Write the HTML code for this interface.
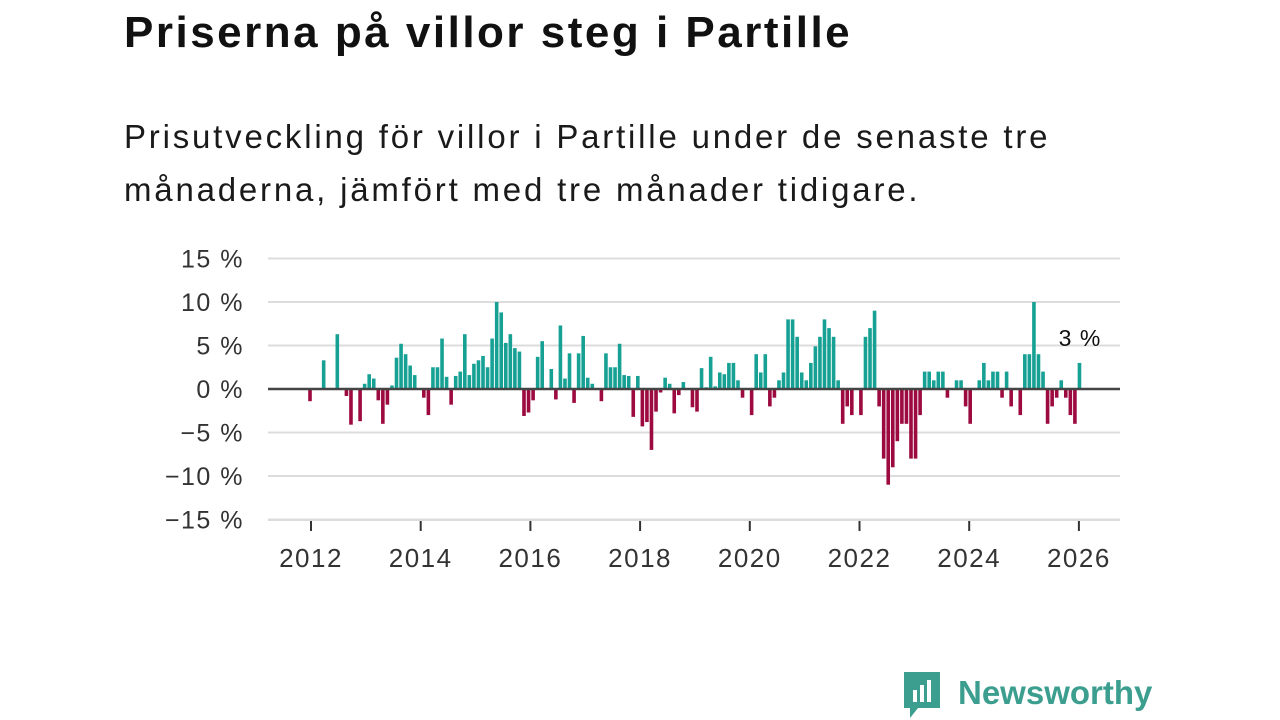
<!DOCTYPE html>
<html><head><meta charset="utf-8">
<style>
body{margin:0;width:1280px;height:720px;background:#fff;overflow:hidden;font-family:"Liberation Sans","DejaVu Sans",sans-serif;color:#111}
h1{position:absolute;left:124px;top:8px;margin:0;font-size:44px;font-weight:bold;letter-spacing:2.5px}
p.sub{position:absolute;left:124px;top:110px;margin:0;font-size:33px;line-height:53px;color:#1a1a1a;width:1100px;letter-spacing:2.8px}
svg{position:absolute;left:0;top:0}
</style></head><body>
<h1>Priserna på villor steg i Partille</h1>
<p class="sub">Prisutveckling för villor i Partille under de senaste tre<br>månaderna, jämfört med tre månader tidigare.</p>
<svg id="chart" width="1280" height="720"></svg>
<script>
const values = [-1.4,0,0,3.3,0,0,6.3,0,-0.8,-4.1,0,-3.7,0.6,1.7,1.2,-1.3,-4,-1.8,0.4,3.6,5.2,4.0,2.7,1.6,
0,-1.0,-3.0,2.5,2.5,5.8,1.4,-1.8,1.5,2.0,6.3,1.6,2.9,3.3,3.8,2.5,5.8,10,8.8,5.3,6.3,4.7,4.3,-3.1,
-2.7,-1.3,3.7,5.5,0,2.3,-1.2,7.3,1.2,4.1,-1.6,4.1,6.1,1.3,0.6,0,-1.4,4.1,2.5,2.5,5.2,1.6,1.5,-3.2,
1.5,-4.3,-3.8,-7.0,-2.6,-0.4,1.3,0.6,-2.8,-0.7,0.8,0,-2.1,-2.6,2.4,0.2,3.7,0.3,1.9,1.7,3.0,3.0,1.0,-1.0,
0,-3.0,4.0,1.9,4.0,-2.0,-1.0,1.0,1.9,8.0,8.0,6.0,1.9,1.0,3.0,4.9,6.0,8.0,7.0,6.0,1.0,-4.0,-2.0,-3.0,
0,-3.0,6.0,7.0,9.0,-2.0,-8.0,-11,-9,-6,-4,-4,-8,-8,-3,2,2,1,2,2,-1,0,1,1,-2,-4,
0,1,3,1,2,2,-1,2,-2,0,-3,4,4,10,4,2,-4,-2,-1,1,-1,-3,-4,3];
const yTicks = [15,10,5,0,-5,-10,-15];
const yearLabels = ["2012","2014","2016","2018","2020","2022","2024","2026"];
const lastLabel = "3 %";

const svg = document.getElementById('chart');
const NS = 'http://www.w3.org/2000/svg';
const y = v => 389 - v * 8.7;
const x = k => 310 + k * 4.553;
const xYear = i => 311 + i * 109.7;
function mk(tag, attrs){const e=document.createElementNS(NS,tag);for(const a in attrs)e.setAttribute(a,attrs[a]);svg.appendChild(e);return e;}

yTicks.forEach(t=>{
  if(t!==0){const g=mk('line',{x1:268,x2:1120,y1:y(t),y2:y(t),stroke:'#dcdcdc','stroke-width':2});
  
  }
  const tx=mk('text',{x:244,y:y(t)+9,'text-anchor':'end','font-size':25,fill:'#333','letter-spacing':1.5});
  tx.textContent=(t<0?'\u2212'+(-t):t)+' %';
  
  
});
values.forEach((v,k)=>{
  if(v===0)return;
  const r=mk('rect',{x:x(k)-1.8,width:3.6,y:Math.min(y(v),389),height:Math.abs(v*8.7),fill:v>0?'#17a195':'#9c0a3f'});
  
  
});
const z=mk('line',{x1:268,x2:1120,y1:389,y2:389,stroke:'#444','stroke-width':2.5});


yearLabels.forEach((l,i)=>{
  const tk=mk('line',{x1:xYear(i),x2:xYear(i),y1:520,y2:531,stroke:'#333','stroke-width':2});
  
  
  const t=mk('text',{x:xYear(i),y:567,'text-anchor':'middle','font-size':26,fill:'#333','letter-spacing':1.5});
  t.textContent=l;
  
  
});
const ax=mk('line',{x1:268,x2:1120,y1:520,y2:520,stroke:'#dcdcdc','stroke-width':2});


const ll=mk('text',{x:1080,y:346,'text-anchor':'middle','font-size':23,fill:'#111','letter-spacing':1});
ll.textContent=lastLabel;


</script>
<svg width="1280" height="720" style="pointer-events:none">
  <path d="M904 672 h36 v36 h-22 l-8 10 v-10 h-6 z" fill="#3b9e8e"/>
  <rect x="913" y="690" width="4" height="12" fill="#fff"/>
  <rect x="920" y="685" width="4" height="17" fill="#fff"/>
  <rect x="927" y="680" width="4" height="22" fill="#fff"/>
  <text x="958" y="704" font-size="33" font-weight="bold" fill="#3b9e8e" font-family="Liberation Sans, sans-serif">Newsworthy</text>
</svg>
</body></html>
